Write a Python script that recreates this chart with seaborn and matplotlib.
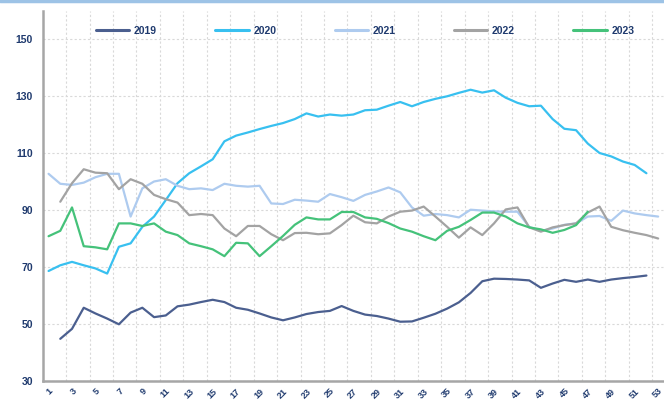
import numpy as np
import pandas as pd
import seaborn as sns
import matplotlib.pyplot as plt
from matplotlib.lines import Line2D

nan = np.nan

# semanas 1..53
weeks = list(range(1, 54))
years = ["2019", "2020", "2021", "2022", "2023"]

v2019 = [nan, 44.8, 48.3, 55.7, 53.7, 51.9, 49.9, 54.0, 55.7, 52.4,
         53.0, 56.2, 56.8, 57.7, 58.5, 57.7, 55.7, 55.0, 53.7, 52.3,
         51.3, 52.3, 53.5, 54.2, 54.6, 56.3, 54.6, 53.3, 52.8, 51.9,
         50.8, 50.9, 52.2, 53.6, 55.4, 57.6, 60.9, 65.0, 65.9, 65.8,
         65.6, 65.3, 62.7, 64.2, 65.5, 64.8, 65.6, 64.8, 65.6, 66.1,
         66.5, 67.0, nan]
v2020 = [68.6, 70.6, 71.8, 70.6, 69.5, 67.7, 77.1, 78.3, 84.1, 87.7,
         93.5, 99.4, 102.9, 105.3, 107.8, 114.1, 116.1, 117.2, 118.4, 119.5,
         120.5, 121.9, 123.9, 122.8, 123.5, 123.1, 123.5, 125.0, 125.2, 126.6,
         127.9, 126.4, 127.9, 129.0, 129.9, 131.1, 132.2, 131.2, 132.0, 129.4,
         127.6, 126.4, 126.6, 121.9, 118.5, 118.0, 113.3, 110.0, 108.8, 107.0,
         105.8, 102.9, nan]
v2021 = [102.7, 99.2, 98.8, 99.6, 101.5, 102.7, 102.7, 87.7, 97.6, 100.0,
         100.8, 98.5, 97.3, 97.6, 97.0, 99.2, 98.5, 98.2, 98.5, 92.3,
         92.1, 93.6, 93.3, 92.9, 95.6, 94.5, 93.2, 95.3, 96.5, 97.9,
         96.2, 90.9, 88.0, 88.6, 88.2, 87.4, 90.1, 89.8, 89.5, 89.4,
         89.4, 84.1, 82.7, 83.5, 84.8, 85.3, 87.7, 87.9, 86.2, 89.8,
         88.8, 88.2, 87.7]
v2022 = [nan, 92.9, 99.4, 104.3, 103.1, 102.9, 97.3, 100.8, 99.2, 95.3,
         93.8, 92.6, 88.2, 88.6, 88.2, 83.5, 80.8, 84.4, 84.4, 81.5,
         79.4, 81.9, 82.0, 81.5, 81.8, 84.7, 88.0, 85.7, 85.3, 87.7,
         89.4, 89.8, 91.2, 87.7, 84.1, 80.3, 83.9, 81.2, 85.3, 90.2,
         90.9, 83.9, 82.4, 83.9, 84.7, 85.3, 89.1, 91.2, 84.1, 82.9,
         82.0, 81.2, 80.0]
v2023 = [80.8, 82.7, 90.9, 77.3, 76.9, 76.2, 85.3, 85.3, 84.4, 85.3,
         82.4, 81.2, 78.3, 77.3, 76.2, 73.8, 78.5, 78.3, 73.8, 77.3,
         80.9, 84.8, 87.4, 86.7, 86.7, 89.3, 89.3, 87.4, 86.9, 85.4,
         83.5, 82.4, 80.8, 79.4, 82.7, 84.1, 86.5, 89.1, 89.1, 87.7,
         85.3, 83.9, 83.2, 82.0, 83.0, 84.7, 89.4, nan, nan, nan,
         nan, nan, nan]

colores = {"2019": "#4B5F8F", "2020": "#38C0F0", "2021": "#AECBEF",
           "2022": "#A3A3A3", "2023": "#45C27A"}
navy = "#1F3A6E"

df = pd.DataFrame({"semana": weeks * 5,
                   "valor": v2019 + v2020 + v2021 + v2022 + v2023,
                   "anio": sum([[y] * 53 for y in years], [])})
df = df.dropna()

sns.set_style("white")
plt.rcParams["font.family"] = ["Liberation Sans Narrow", "Liberation Sans", "DejaVu Sans"]

fig = plt.figure(figsize=(6.64, 4.07), dpi=100)
ax = fig.add_axes([42.7 / 664, 26 / 407, (664 - 42.7) / 664, 370.5 / 407])

sns.lineplot(data=df, x="semana", y="valor", hue="anio", palette=colores,
             linewidth=1.6, ax=ax, legend=False)

ax.set_xlim(0.5, 53.5)
ax.set_ylim(30, 160)
ax.set_yticks(range(30, 151, 20))
ax.set_xticks(range(1, 54, 2))
ax.set_xticks(np.arange(2.5, 53, 2), minor=True)
ax.set_xticklabels([str(w) for w in range(1, 54, 2)], rotation=45,
                   ha="right", va="top", rotation_mode="anchor")
ax.tick_params(axis="x", which="major", length=0, pad=4, labelsize=6.5, labelcolor=navy)
ax.tick_params(axis="x", which="minor", length=3, color="#BFBFBF", width=0.8)
ax.tick_params(axis="y", length=0, pad=7, labelsize=7.5, labelcolor=navy)
for t in ax.get_yticklabels() + ax.get_xticklabels():
    t.set_fontweight("bold")

ax.grid(axis="y", which="major", linestyle=(0, (2, 2)), color="#D9D9D9", linewidth=0.8)
ax.grid(axis="x", which="minor", linestyle=(0, (2, 2)), color="#D9D9D9", linewidth=0.8)
ax.set_axisbelow(True)

for s in ["top", "right"]:
    ax.spines[s].set_visible(False)
for s in ["left", "bottom"]:
    ax.spines[s].set_color("#A6A6A6")
    ax.spines[s].set_linewidth(1.8)

ax.set_xlabel("")
ax.set_ylabel("")

handles = [Line2D([0], [0], color=colores[y], lw=2.2) for y in years]
leg = ax.legend(handles, years, ncol=5, loc="center", bbox_to_anchor=(0.519, 0.945),
                frameon=False, handlelength=3.2, handletextpad=0.45,
                columnspacing=5.6, prop={"size": 7.5, "weight": "bold"})
for t in leg.get_texts():
    t.set_color(navy)

# borde azul superior
fig.add_artist(Line2D([0, 1], [0.997, 0.997], color="#9DC3E6", lw=2.5,
                      transform=fig.transFigure))

fig.savefig("out.png", dpi=100)
